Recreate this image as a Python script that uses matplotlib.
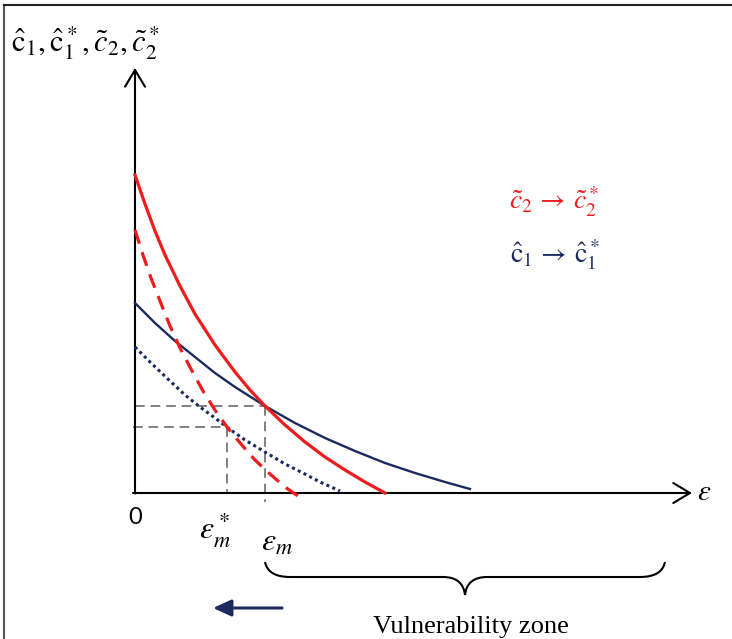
import matplotlib.pyplot as plt
from matplotlib.patches import FancyArrowPatch, PathPatch
from matplotlib.path import Path
from matplotlib.lines import Line2D

plt.rcParams["mathtext.fontset"] = "stix"

RED = "#ee1c1c"
NAVY = "#1b2a5e"
GRAY = "#808080"

# curves: epsilon on x, cost on y (arbitrary units)
c2_x = [0, 0.10, 0.20, 0.30, 0.45, 0.60, 0.80, 1.00, 1.15, 1.30, 1.50, 1.70, 1.90, 2.10, 2.30, 2.50]
c2_y = [3.18, 2.89, 2.62, 2.38, 2.07, 1.79, 1.48, 1.21, 1.03, 0.87, 0.68, 0.51, 0.36, 0.23, 0.11, 0.00]

c2_star_x = [0, 0.08, 0.16, 0.25, 0.35, 0.45, 0.56, 0.68, 0.80, 0.92, 1.06, 1.20, 1.35, 1.50, 1.63]
c2_star_y = [2.63, 2.38, 2.15, 1.92, 1.67, 1.45, 1.24, 1.02, 0.83, 0.66, 0.49, 0.33, 0.19, 0.06, -0.03]

c1_x = [0, 0.20, 0.40, 0.60, 0.80, 1.00, 1.30, 1.60, 1.90, 2.20, 2.50, 2.80, 3.10, 3.35]
c1_y = [1.90, 1.70, 1.52, 1.36, 1.20, 1.06, 0.87, 0.70, 0.55, 0.42, 0.30, 0.20, 0.11, 0.04]

c1_star_x = [0, 0.15, 0.35, 0.50, 0.65, 0.80, 0.93, 1.10, 1.30, 1.50, 1.68, 1.85, 2.05]
c1_star_y = [1.46, 1.31, 1.12, 0.98, 0.86, 0.75, 0.65, 0.53, 0.41, 0.29, 0.20, 0.11, 0.02]

# thresholds
eps_m = 1.30
eps_m_star = 0.92
level_m = 0.87
level_m_star = 0.66
zone_end = 5.30


def draw_axis_arrow(ax, start, end):
    ax.add_patch(FancyArrowPatch(
        start, end,
        arrowstyle="->,head_length=1.0,head_width=0.6",
        mutation_scale=12, lw=1.5, color="black",
        shrinkA=0, shrinkB=0, zorder=3,
    ))


def draw_brace(ax, left, right, top, bar, tip):
    mid = (left + right) / 2
    verts = [
        (left, top), (left + 0.03, bar), (left + 0.25, bar),
        (mid - 0.22, bar),
        (mid - 0.02, bar), (mid, tip),
        (mid + 0.02, bar), (mid + 0.22, bar),
        (right - 0.25, bar),
        (right - 0.03, bar), (right, top),
    ]
    codes = [
        Path.MOVETO, Path.CURVE3, Path.CURVE3,
        Path.LINETO,
        Path.CURVE3, Path.CURVE3,
        Path.CURVE3, Path.CURVE3,
        Path.LINETO,
        Path.CURVE3, Path.CURVE3,
    ]
    ax.add_patch(PathPatch(Path(verts, codes), fill=False, lw=1.5, edgecolor="black"))


fig = plt.figure(figsize=(7.32, 6.39), dpi=100)
ax = fig.add_axes([0, 0, 1, 1])
ax.set_xlim(-1.35, 5.97)
ax.set_ylim(-1.46, 4.93)
ax.set_axis_off()

# frame around the picture (top and left only)
fig.add_artist(Line2D([4 / 732, 4 / 732], [0, 1 - 5 / 639], transform=fig.transFigure,
                      color="#555555", lw=1.5))
fig.add_artist(Line2D([4 / 732, 1], [1 - 5 / 639, 1 - 5 / 639], transform=fig.transFigure,
                      color="#222222", lw=1.5))

# guide lines
ax.plot([0, eps_m], [level_m, level_m], color=GRAY, lw=1.4, ls=(0, (5, 3)))
ax.plot([eps_m, eps_m], [level_m, -0.09], color=GRAY, lw=1.4, ls=(0, (5, 3)))
ax.plot([-0.02, eps_m_star], [level_m_star, level_m_star], color=GRAY, lw=1.4, ls=(0, (5, 3)))
ax.plot([eps_m_star, eps_m_star], [level_m_star, 0], color=GRAY, lw=1.4, ls=(0, (5, 3)))

# curves
ax.plot(c1_x, c1_y, color=NAVY, lw=1.7, zorder=4)
ax.plot(c1_star_x, c1_star_y, color=NAVY, lw=2.2, ls=(0, (1, 1.1)), zorder=4)
ax.plot(c2_x, c2_y, color=RED, lw=2.3, zorder=5)
ax.plot(c2_star_x, c2_star_y, color=RED, lw=2.3, ls=(0, (4.5, 2.8)), zorder=5)

# axes
draw_axis_arrow(ax, (0, -0.005), (0, 4.25))
draw_axis_arrow(ax, (-0.02, 0), (5.57, 0))

ax.text(-0.50, 4.50, r"$\hat{\mathrm{c}}_1,\hat{\mathrm{c}}_1^*, \tilde{c}_2, \tilde{c}_2^*$",
        fontsize=22, ha="center", va="center")
ax.text(5.62, 0.01, r"$\varepsilon$", fontsize=21, ha="left", va="center")
ax.text(0, -0.25, "0", fontsize=17, family="Lato", ha="center", va="center")
ax.text(0.80, -0.37, r"$\varepsilon_m^*$", fontsize=23, ha="center", va="center")
ax.text(1.42, -0.49, r"$\varepsilon_m$", fontsize=23, ha="center", va="center")

ax.text(4.19, 2.91, r"$\tilde{c}_2\,\rightarrow\,\tilde{c}_2^*$", fontsize=20,
        color=RED, ha="center", va="center")
ax.text(4.20, 2.38, r"$\hat{\mathrm{c}}_1\,\rightarrow\,\hat{\mathrm{c}}_1^*$", fontsize=20,
        color=NAVY, ha="center", va="center")

draw_brace(ax, eps_m, zone_end, -0.69, -0.84, -1.02)
ax.text((eps_m + zone_end) / 2 + 0.06, -1.40, "Vulnerability zone", fontsize=19,
        family="Liberation Serif", ha="center", va="baseline")

ax.add_patch(FancyArrowPatch(
    (1.47, -1.15), (0.78, -1.15),
    arrowstyle="-|>,head_length=1.1,head_width=0.5",
    mutation_scale=10, lw=2.2, color=NAVY, shrinkA=0, shrinkB=0,
))

fig.savefig("out.png", dpi=100)
